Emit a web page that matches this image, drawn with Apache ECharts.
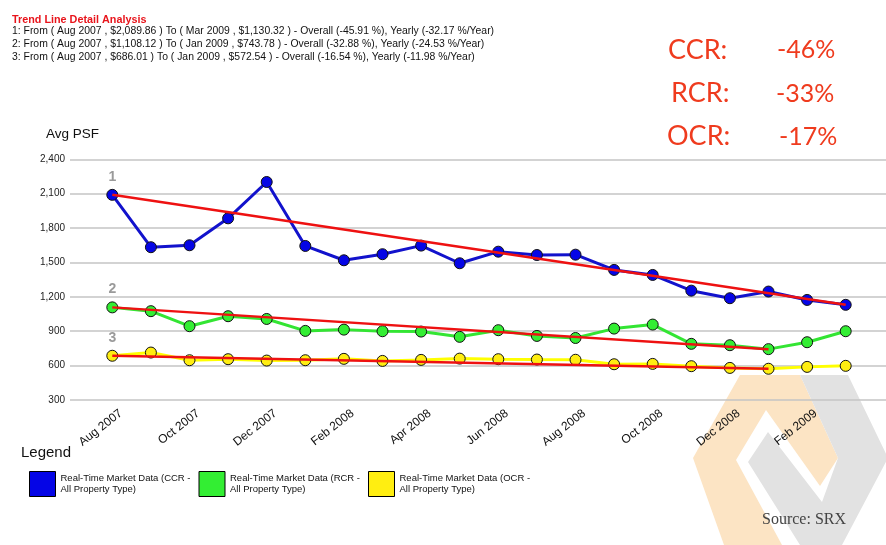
<!DOCTYPE html>
<html><head><meta charset="utf-8">
<script src="https://cdn.jsdelivr.net/npm/echarts@6/dist/echarts.min.js"></script>
<style>html,body{margin:0;padding:0;background:#fff}#c{width:886px;height:545px}</style>
</head><body><div id="c"></div>
<script>
var months = ['Aug 2007','Sep 2007','Oct 2007','Nov 2007','Dec 2007','Jan 2008','Feb 2008','Mar 2008','Apr 2008','May 2008','Jun 2008','Jul 2008','Aug 2008','Sep 2008','Oct 2008','Nov 2008','Dec 2008','Jan 2009','Feb 2009','Mar 2009'];
var ccr = [2089.86,1633,1650,1885,2202,1644,1519,1572,1647,1493,1594,1565,1568,1435,1391,1254,1188,1246,1173,1130.32];
var rcr = [1108.12,1075,944,1031,1007,903,914,900,897,851,909,859,841,923,958,790,778,743.78,804,900];
var ocr = [686.01,714,647,656,644,647,659,641,650,661,656,653,651,612,615,595,580,572.54,589,598];
var trendCCR = {from: 'Aug 2007', start: 2089.86, to: 'Mar 2009', end: 1130.32};
var trendRCR = {from: 'Aug 2007', start: 1108.12, to: 'Jan 2009', end: 743.78};
var trendOCR = {from: 'Aug 2007', start: 686.01, to: 'Jan 2009', end: 572.54};
var yTicks = [300,600,900,1200,1500,1800,2100,2400];
var seriesNames = ['Real-Time Market Data (CCR - All Property Type)','Real-Time Market Data (RCR - All Property Type)','Real-Time Market Data (OCR - All Property Type)'];
var detailLines = [
 '1: From ( Aug 2007 , $2,089.86 ) To ( Mar 2009 , $1,130.32 ) - Overall (-45.91 %), Yearly (-32.17 %/Year)',
 '2: From ( Aug 2007 , $1,108.12 ) To ( Jan 2009 , $743.78 ) - Overall (-32.88 %), Yearly (-24.53 %/Year)',
 '3: From ( Aug 2007 , $686.01 ) To ( Jan 2009 , $572.54 ) - Overall (-16.54 %), Yearly (-11.98 %/Year)'
];
var regionNames = ['CCR:','RCR:','OCR:'];
var regionChanges = ['-46%','-33%','-17%'];

function trendData(t){
  return months.map(function(m){ return m===t.from ? t.start : (m===t.to ? t.end : null); });
}
function withLabel(arr, txt){
  return arr.map(function(v,i){ return i===0 ? {value:v, label:{show:true, formatter:txt, position:'top', distance:5, color:'#9a9a9a', fontSize:14, fontWeight:'bold', fontFamily:'Liberation Sans'}} : v; });
}
var chart = echarts.init(document.getElementById('c'), null, {renderer:'canvas'});
var top0 = 159.3, bottom0 = 545-400;
var colors = [{line:'#1212cc', fill:'#0505e6'},{line:'#33e533', fill:'#33ee33'},{line:'#ffff00', fill:'#ffee11'}];
function dataSeries(i, arr, txt){
  return {name: seriesNames[i], type:'line', xAxisIndex:1, yAxisIndex:1, data: withLabel(arr, txt),
    symbol:'circle', symbolSize:11, z:2,
    lineStyle:{color:colors[i].line, width:3}, itemStyle:{color:colors[i].fill, borderColor:'#111', borderWidth:1}};
}
function trendSeries(t){
  return {type:'line', xAxisIndex:1, yAxisIndex:1, data: trendData(t), connectNulls:true, symbol:'none', z:5,
    lineStyle:{color:'#ee1111', width:2.5}, silent:true};
}
var graphics = [
  {type:'text', left:12, top:15, style:{text:'Trend Line Detail Analysis', fill:'#e8141b', font:'bold 10.8px "Liberation Sans"'}},
  {type:'text', left:12, top:25, style:{text:detailLines.join('\n'), fill:'#111', font:'10.4px "Liberation Sans"', lineHeight:12.8}},
  {type:'text', left:46, top:127, style:{text:'Avg PSF', fill:'#111', font:'13.5px "Liberation Sans"'}},
  {type:'text', left:21, top:445, style:{text:'Legend', fill:'#111', font:'15px "Liberation Sans"'}},
  {type:'polygon', z:-1, shape:{points:[[740,375],[800,375],[838,458],[820,486],[766,410],[736,460],[782,545],[724,545],[693,458]]}, style:{fill:'#fce4c4'}},
  {type:'polygon', z:-1, shape:{points:[[800,375],[848,375],[888,458],[842,545],[800,545],[748,462],[768,432],[822,502],[838,458]]}, style:{fill:'#e2e2e2'}},
  {type:'text', left:762, top:512, style:{text:'Source: SRX', fill:'#444', font:'16px "Liberation Serif"'}}
];
var ys = [51.7, 95, 138];
var xn = [668, 671, 667], xc = [777, 776, 779];
for (var i=0;i<3;i++){
  graphics.push({type:'text', left:xn[i], top:ys[i]-15, style:{text:regionNames[i], fill:'#ef3b1e', font:'27px Lato'}});
  graphics.push({type:'text', left:xc[i], top:ys[i]-14, style:{text:regionChanges[i], fill:'#ef3b1e', font:'25px Lato'}});
}
chart.setOption({
  animation:false,
  backgroundColor:'#fff',
  grid:[{left:70, right:0, top:top0, bottom:bottom0, containLabel:false},
        {left:112.3, right:40.3, top:top0, bottom:bottom0, containLabel:false},
        {left:121, right:31.6, top:top0, bottom:bottom0, containLabel:false}],
  xAxis:[{type:'category', gridIndex:0, data:months, show:false},
         {type:'category', gridIndex:1, data:months, boundaryGap:false, show:false},
         {type:'category', gridIndex:2, data:months, boundaryGap:false,
          axisLine:{show:false}, axisTick:{show:false},
          axisLabel:{interval:1, rotate:38, fontSize:12, color:'#111', fontFamily:'Liberation Sans', margin:12}}],
  yAxis:[{type:'value', gridIndex:0, min:yTicks[0], max:yTicks[yTicks.length-1], interval:300,
          axisLine:{show:false}, axisTick:{show:false},
          axisLabel:{fontSize:10, color:'#222', fontFamily:'Liberation Sans', margin:5, formatter:function(v){return v.toLocaleString('en-US');}},
          splitLine:{lineStyle:{color:'#c4c4c4', width:1.5}}},
         {type:'value', gridIndex:1, min:yTicks[0], max:yTicks[yTicks.length-1], interval:300, show:false, splitLine:{show:false}},
         {type:'value', gridIndex:2, min:yTicks[0], max:yTicks[yTicks.length-1], interval:300, show:false, splitLine:{show:false}}],
  legend:{data:seriesNames, left:29, top:471, padding:0, orient:'horizontal', icon:'rect', itemWidth:26, itemHeight:25, itemGap:4,
    itemStyle:{borderColor:'#000', borderWidth:1}, selectedMode:false,
    formatter:function(n){ return n.replace(' All Property','\nAll Property'); },
    textStyle:{fontSize:9.5, lineHeight:11, color:'#111', fontFamily:'Liberation Sans', width:134}},
  graphic: graphics,
  series:[dataSeries(0, ccr, '1'), dataSeries(1, rcr, '2'), dataSeries(2, ocr, '3'),
          trendSeries(trendCCR), trendSeries(trendRCR), trendSeries(trendOCR)]
});
</script></body></html>
